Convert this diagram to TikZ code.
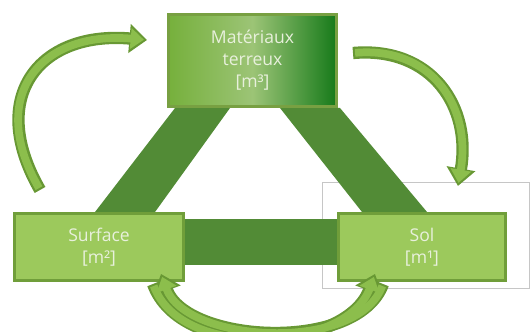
\documentclass[tikz,border=0pt]{standalone}
\usepackage{fontspec}
\setmainfont{Open Sans}
\usepackage{tikz}
\usetikzlibrary{arrows.meta}
\usetikzlibrary{calc}
\usetikzlibrary{positioning}
\usetikzlibrary{backgrounds}

\definecolor{bandgreen}{RGB}{82,139,54}
\definecolor{lightbox}{RGB}{156,201,92}
\definecolor{boxedge}{RGB}{112,158,58}
\definecolor{topedge}{RGB}{120,160,66}
\definecolor{arrowfill}{RGB}{140,190,76}
\definecolor{arrowedge}{RGB}{104,152,52}
\definecolor{labeltext}{RGB}{232,240,220}
\definecolor{gradleft}{RGB}{118,176,60}
\definecolor{gradmid}{RGB}{156,196,118}
\definecolor{gradright}{RGB}{22,122,26}

\begin{document}
\begin{tikzpicture}[x=0.02cm, y=0.02cm, node distance=2.08cm,
    box/.style={draw=boxedge, line width=0.06cm, fill=lightbox, text=labeltext,
        align=center, inner sep=0pt, font=\fontsize{10}{12.5}\selectfont},
    arrowback/.style={draw=arrowedge, line width=7pt, -{Triangle[length=10pt,width=16pt]}},
    arrowfront/.style={draw=arrowfill, line width=4.4pt, shorten >=1.8pt, shorten <=1.2pt,
        -{Triangle[length=7.5pt,width=11.5pt]}}]
     \useasboundingbox (0,0) rectangle (530,331);

     %nodes
     \node[box, draw=topedge, minimum width=3.36cm, minimum height=1.84cm,
         left color=gradleft, right color=gradright, middle color=gradmid]
         (mat) at (252.5,270.5) {Matériaux\\terreux\\{}[m³]};
     \node[box, minimum width=3.38cm, minimum height=1.34cm, below=of mat, xshift=-3.07cm]
         (surf) {Surface\\{}[m²]};
     \node[box, minimum width=3.34cm, minimum height=1.34cm, below=of mat, xshift=3.39cm]
         (sol) {Sol\\{}[m¹]};

     %bands behind the boxes
     \begin{scope}[on background layer]
     \draw[gray!45, line width=0.5pt] (322,43) rectangle (529.6,149);
     \fill[bandgreen] ($(mat.south west)+(8,0)$) -- ($(mat.south west)+(63,0)$)
         -- ($(surf.north west)+(142,0)$) -- ($(surf.north west)+(82,0)$) -- cycle;
     \fill[bandgreen] ($(mat.south east)+(-58,0)$) -- ($(mat.south east)+(2,0)$)
         -- ($(sol.north west)+(90,0)$) -- ($(sol.north west)+(25,0)$) -- cycle;
     \fill[bandgreen] ($(surf.south east)+(-5,17)$) rectangle ($(sol.north west)+(5,-7)$);
     \end{scope}

     %arrow ends
     \coordinate (ltail) at ($(surf.north west)+(27,22)$);
     \coordinate (lhead) at ($(mat.north west)+(-20,-27)$);
     \coordinate (rtail) at ($(mat.north east)+(15,-40)$);
     \coordinate (rhead) at ($(sol.north east)+(-49,26)$);
     \coordinate (atail) at ($(surf.south east)+(-32,-2)$);
     \coordinate (ahead) at ($(sol.south west)+(38,8)$);
     \coordinate (btail) at ($(sol.south west)+(46,-2)$);
     \coordinate (bhead) at ($(surf.south east)+(-24,8)$);

     \draw[arrowback] (ltail) to [out=120,in=175,looseness=1.5] (lhead);
     \draw[arrowback] (rtail) to [out=5,in=80,looseness=1.2] (rhead);
     \draw[arrowback] (atail) to [out=-70,in=-110,looseness=0.95] (ahead);
     \draw[arrowback] (btail) to [out=-110,in=-70,looseness=0.85] (bhead);
     \draw[arrowfront] (ltail) to [out=120,in=175,looseness=1.5] (lhead);
     \draw[arrowfront] (rtail) to [out=5,in=80,looseness=1.2] (rhead);
     \draw[arrowfront] (atail) to [out=-70,in=-110,looseness=0.95] (ahead);
     \draw[arrowfront] (btail) to [out=-110,in=-70,looseness=0.85] (bhead);
\end{tikzpicture}
\end{document}
